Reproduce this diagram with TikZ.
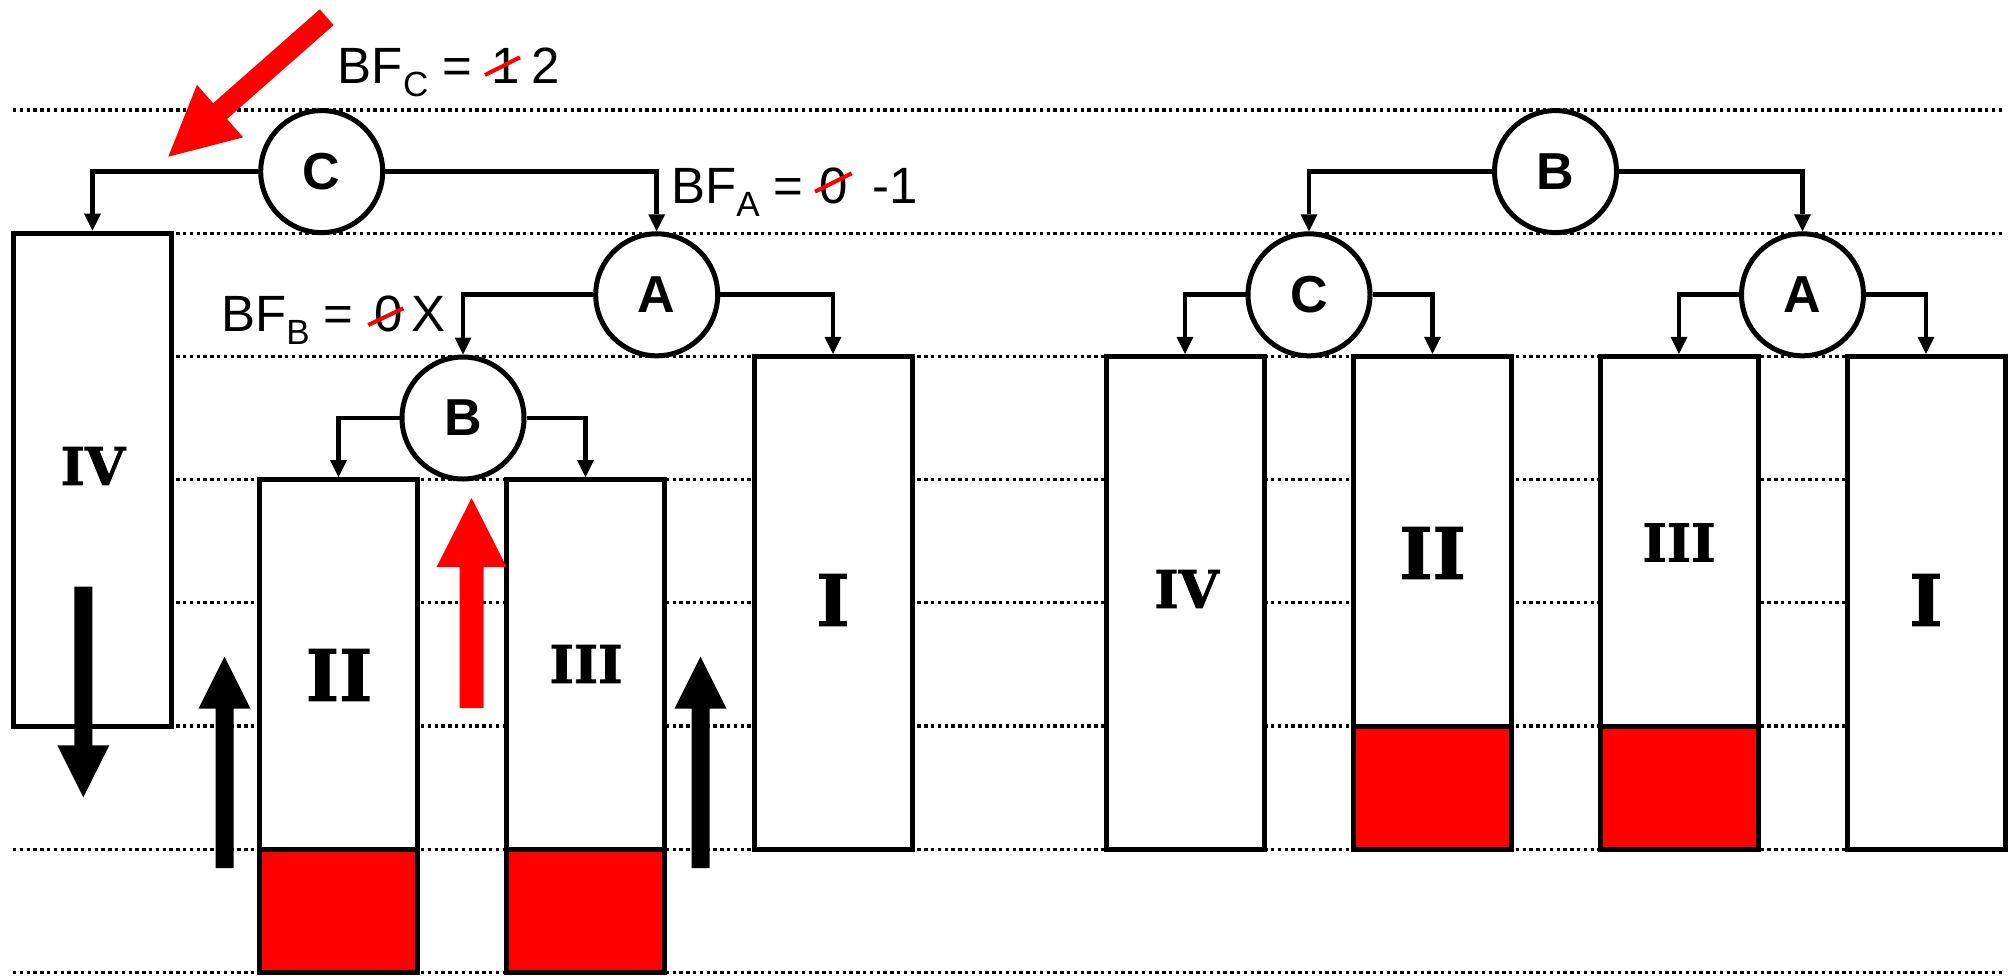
\documentclass[tikz,border=0pt]{standalone}
\usepackage{fontspec}
\setmainfont{Liberation Sans}
\newfontfamily\romanfont{DejaVu Serif}[BoldFont={DejaVu Serif Bold},BoldFeatures={FakeBold=1.5}]
\usetikzlibrary{arrows.meta,calc}
\newcommand\bfsub[1]{\raisebox{-13pt}{\fontsize{35}{35}\selectfont #1}}
\newcommand\fatarrow[6]{%
  \coordinate (fa-h) at ($(#2)!#5!(#1)$);
  \fill[#6] ($(#1)!#3!90:(#2)$) -- ($(fa-h)!#3!90:(#2)$) -- ($(fa-h)!#4!90:(#2)$) -- (#2)
    -- ($(fa-h)!#4!-90:(#2)$) -- ($(fa-h)!#3!-90:(#2)$) -- ($(#1)!#3!-90:(#2)$) -- cycle;}
\begin{document}
\begin{tikzpicture}[x=1pt,y=-1pt,
  dotline/.style={line width=3.2pt, dash pattern=on 3.4pt off 3.4pt},
  box/.style={draw, line width=5pt, fill=white, minimum width=158pt, minimum height=492.8pt, inner sep=0pt},
  circ/.style={draw, circle, line width=5pt, fill=white, minimum size=122pt, inner sep=0pt, font={\bfseries\fontsize{52}{52}\selectfont}},
  conn/.style={line width=4.8pt, -{Triangle[length=17pt,width=17pt,line width=0pt]}},
  redfill/.style={draw, line width=5pt, fill=red},
  strike/.style={red, line width=4pt},
  bflabel/.style={inner sep=0pt, font={\fontsize{51}{51}\selectfont}},
  rnbig/.style={inner sep=0pt, font={\romanfont\bfseries\fontsize{71}{71}\selectfont}},
  rnsmall/.style={inner sep=0pt, font={\romanfont\bfseries\fontsize{52}{52}\selectfont}},
]
\useasboundingbox (0,0) rectangle (2011,975);
% dotted level lines
\foreach \k in {0,...,7} {
  \draw[dotline] (13,110+123.2*\k) -- (2005,110+123.2*\k);
}
% left tree boxes
\node[box] (lIV) at (92.5,479.6) {};
\node[box] (lII) at (338.5,726) {};
\node[box] (lIII) at (585.5,726) {};
\node[box] (lI) at (833,602.8) {};
\draw[redfill] (259.5,849.2) rectangle (417.5,972.4);
\draw[redfill] (506.5,849.2) rectangle (664.5,972.4);
% right tree boxes
\node[box] (rIV) at (1185,602.8) {};
\node[box] (rII) at (1432.5,602.8) {};
\node[box] (rIII) at (1679,602.8) {};
\node[box] (rI) at (1926,602.8) {};
\draw[redfill] (1353.5,726) rectangle (1511.5,849.2);
\draw[redfill] (1600,726) rectangle (1758,849.2);
% circles
\node[circ] (lC) at (321.7,171.6) {C};
\node[circ] (lA) at (656.7,294.8) {A};
\node[circ] (lB) at (463,418) {B};
\node[circ] (rB) at (1555.5,171.6) {B};
\node[circ] (rC) at (1309,294.8) {C};
\node[circ] (rA) at (1802.5,294.8) {A};
% connectors
\draw[conn] (lC.west) -| (lIV.north);
\draw[conn] (lC.east) -| (lA.north);
\draw[conn] (lA.west) -| (lB.north);
\draw[conn] (lA.east) -| (lI.north);
\draw[conn] (lB.west) -| (lII.north);
\draw[conn] (lB.east) -| (lIII.north);
\draw[conn] (rB.west) -| (rC.north);
\draw[conn] (rB.east) -| (rA.north);
\draw[conn] (rC.west) -| (rIV.north);
\draw[conn] (rC.east) -| (rII.north);
\draw[conn] (rA.west) -| (rIII.north);
\draw[conn] (rA.east) -| (rI.north);
% box labels
\node[rnsmall] (tlIV) at (93,466) {IV};
\node[rnbig] (tlII) at (339,675) {II};
\node[rnsmall] (tlIII) at (586,664) {III};
\node[rnbig] (tlI) at (833,600) {I};
\node[rnsmall] (trIV) at (1186.7,589) {IV};
\node[rnbig] (trII) at (1432.5,553) {II};
\node[rnsmall] (trIII) at (1679,542.5) {III};
\node[rnbig] (trI) at (1926,600) {I};
% balance factor labels
\node[bflabel, anchor=base west] (bfc) at (337.7,83.3) {BF\bfsub{C} =};
\node[bflabel, anchor=base] (bfcold) at (505.3,83.3) {1};
\node[bflabel, anchor=base] (bfcnew) at (545.5,83.3) {2};
\draw[strike] (485,75) -- (520,57.3);
\node[bflabel, anchor=base west] (bfa) at (671,203.3) {BF\bfsub{A} =};
\node[bflabel, anchor=base] (bfaold) at (833.3,203.3) {0};
\node[bflabel, anchor=base] (bfanew) at (895,203.3) {-1};
\draw[strike] (815,191.7) -- (851.7,173.3);
\node[bflabel, anchor=base west] (bfb) at (221,331.7) {BF\bfsub{B} =};
\node[bflabel, anchor=base] (bfbold) at (388.3,331.7) {0};
\node[bflabel, anchor=base] (bfbnew) at (428.3,331.7) {X};
\draw[strike] (368.3,325) -- (403.3,308.3);
% big arrows
\coordinate (a1s) at (224.5,868); \coordinate (a1t) at (224.5,656.7);
\coordinate (a2s) at (700.5,868); \coordinate (a2t) at (700.5,656.7);
\coordinate (a3s) at (471.6,708); \coordinate (a3t) at (471.6,498);
\coordinate (a4s) at (83.3,586.7); \coordinate (a4t) at (83.3,797.3);
\coordinate (a5s) at (326.7,17.2); \coordinate (a5t) at (168.3,156.7);
\fatarrow{a1s}{a1t}{9pt}{26pt}{52pt}{black}
\fatarrow{a2s}{a2t}{9pt}{26pt}{52pt}{black}
\fatarrow{a3s}{a3t}{12pt}{35pt}{69pt}{red}
\fatarrow{a4s}{a4t}{9pt}{26pt}{52pt}{black}
\fatarrow{a5s}{a5t}{10.5pt}{35pt}{69pt}{red}
\end{tikzpicture}
\end{document}
